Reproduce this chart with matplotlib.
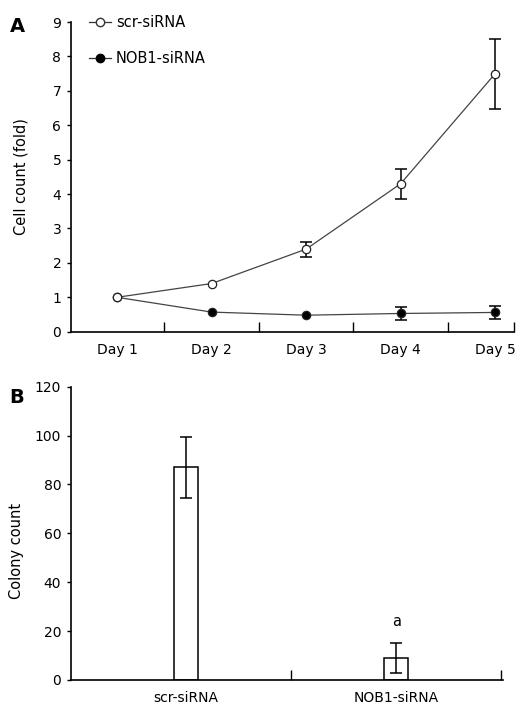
import numpy as np
import matplotlib
matplotlib.use('Agg')
import matplotlib.pyplot as plt
from matplotlib.lines import Line2D

# Panel A: cell count (fold) over days
days = ['Day 1', 'Day 2', 'Day 3', 'Day 4', 'Day 5']
scr_mean = [1.0, 1.4, 2.4, 4.3, 7.5]
scr_err = [0.0, 0.0, 0.22, 0.44, 1.02]
nob1_mean = [1.0, 0.57, 0.48, 0.53, 0.56]
nob1_err = [0.0, 0.0, 0.0, 0.2, 0.19]

# Panel B: colony count
groups = ['scr-siRNA', 'NOB1-siRNA']
colony_mean = [87, 9]
colony_err = [12.5, 6]

plt.rcParams['font.family'] = 'DejaVu Sans'
plt.rcParams['font.size'] = 10

fig = plt.figure(figsize=(5.3, 7.1), dpi=100)

# ---- Panel A
ax1 = fig.add_axes([0.134, 0.5328, 0.836, 0.4362])
x = np.arange(1, len(days) + 1)
# NOB1 first so the open scr marker sits on top at Day 1
for mean, err, face in [(nob1_mean, nob1_err, 'black'), (scr_mean, scr_err, 'white')]:
    err = np.array(err)
    has_err = err > 0
    ax1.errorbar(x[has_err], np.array(mean)[has_err], yerr=err[has_err],
                 fmt='none', ecolor='black', elinewidth=1.1, capsize=4,
                 capthick=1.1)
    ax1.plot(x, mean, color='#444444', lw=0.9, marker='o', ms=6,
             mfc=face, mec='#222222', mew=0.9)
ax1.set_xlim(0.513, 5.2)
ax1.set_ylim(0, 9)
ax1.set_yticks(range(10))
ax1.set_xticks([1.5, 2.5, 3.5, 4.5, 5.2])
ax1.set_xticklabels([])
ax1.set_xticks(x, minor=True)
ax1.set_xticklabels(days, minor=True)
ax1.tick_params(axis='x', which='major', direction='in', length=7, width=1)
ax1.tick_params(axis='x', which='minor', length=0, pad=8)
ax1.tick_params(axis='y', direction='out', length=3, width=1, pad=4)
ax1.spines['top'].set_visible(False)
ax1.spines['right'].set_visible(False)
ax1.spines['left'].set_linewidth(1.2)
ax1.spines['bottom'].set_linewidth(1.2)
ax1.set_ylabel('Cell count (fold)', fontsize=10.5)
ax1.yaxis.set_label_coords(-0.095, 0.5)
handles = [
    Line2D([], [], color='#333333', lw=0.9, marker='o', ms=6,
           mfc='white', mec='#333333'),
    Line2D([], [], color='#333333', lw=0.9, marker='o', ms=6,
           mfc='black', mec='black'),
]
ax1.legend(handles, ['scr-siRNA', 'NOB1-siRNA'], loc='upper left',
           bbox_to_anchor=(0.012, 1.065), frameon=False,
           handlelength=1.5, handletextpad=0.3, labelspacing=1.45,
           fontsize=10.5)
fig.text(0.018, 0.955, 'A', fontsize=14, fontweight='bold')

# ---- Panel B
ax2 = fig.add_axes([0.134, 0.0423, 0.8145, 0.4131])
xb = np.arange(len(groups))
ax2.bar(xb, colony_mean, width=0.115, color='white', edgecolor='black',
        linewidth=1.1, yerr=colony_err, capsize=4,
        error_kw=dict(elinewidth=1.1, capthick=1.1))
ax2.text(1, colony_mean[1] + colony_err[1] + 6, 'a', ha='center', va='bottom',
         fontsize=10.5)
ax2.set_xlim(-0.549, 1.507)
ax2.set_ylim(0, 120)
ax2.set_yticks(range(0, 121, 20))
ax2.set_xticks([0.5, 1.5])
ax2.set_xticklabels([])
ax2.set_xticks(xb, minor=True)
ax2.set_xticklabels(groups, minor=True)
ax2.tick_params(axis='x', which='major', direction='in', length=7, width=1)
ax2.tick_params(axis='x', which='minor', length=0, pad=8)
ax2.tick_params(axis='y', direction='out', length=3, width=1, pad=4)
ax2.spines['top'].set_visible(False)
ax2.spines['right'].set_visible(False)
ax2.spines['left'].set_linewidth(1.2)
ax2.spines['bottom'].set_linewidth(1.2)
ax2.set_ylabel('Colony count', fontsize=10.5)
ax2.yaxis.set_label_coords(-0.11, 0.44)
fig.text(0.018, 0.433, 'B', fontsize=14, fontweight='bold')

fig.savefig('out.png', dpi=100)
